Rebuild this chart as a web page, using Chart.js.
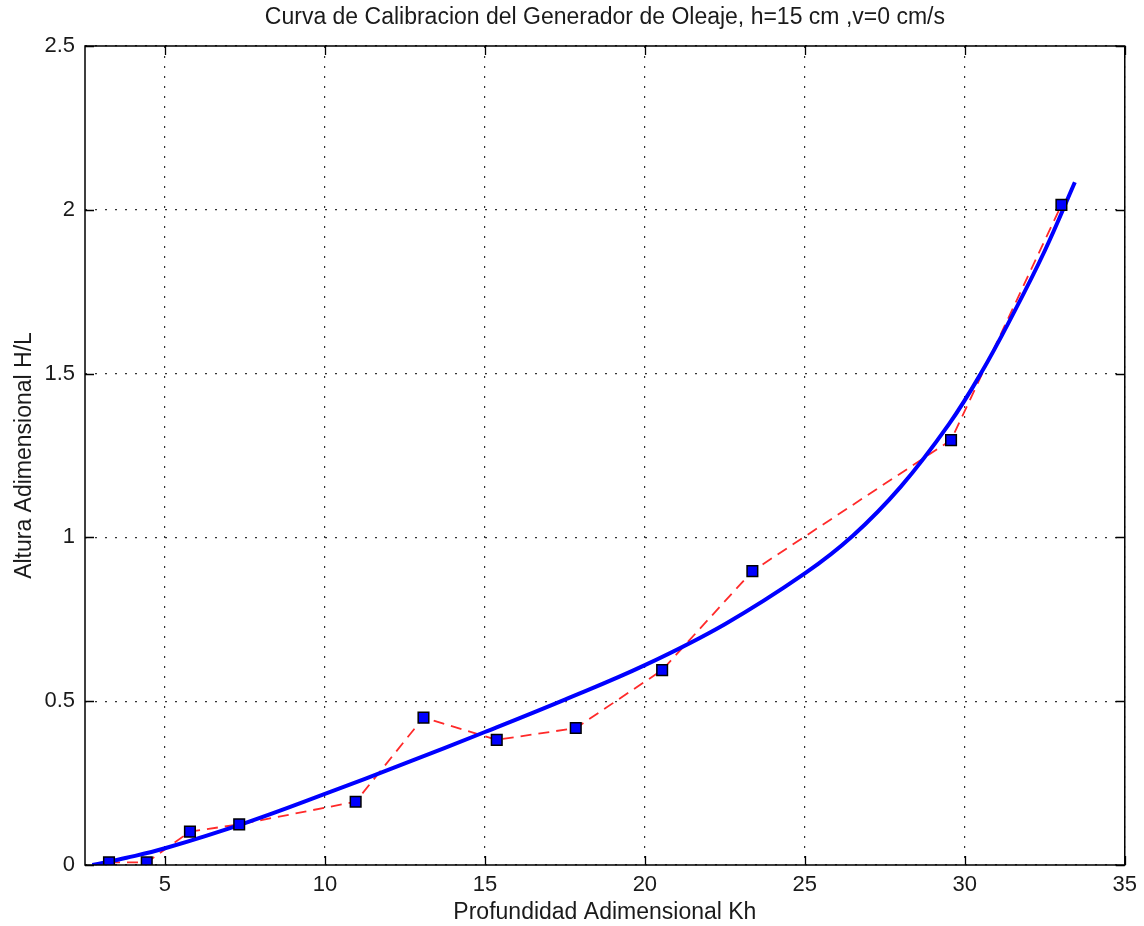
<!DOCTYPE html>
<html>
<head>
<meta charset="utf-8">
<title>Curva de Calibracion</title>
<script src="https://cdn.jsdelivr.net/npm/chart.js@4/dist/chart.umd.min.js"></script>
<style>
    html, body { margin: 0; padding: 0; background: #fff; }
    #wrap { width: 1144px; height: 926px; }
</style>
</head>
<body>
<div id="wrap"><canvas id="calib-chart" width="1144" height="926"></canvas></div>
<script>
// measured points (Kh, H/L)
var kh = [3.25, 4.43, 5.78, 7.32, 10.96, 13.08, 15.37, 17.84, 20.54, 23.36, 29.57, 33.02];
var hl = [0.008, 0.008, 0.102, 0.124, 0.193, 0.450, 0.382, 0.418, 0.595, 0.897, 1.297, 2.015];

// fitted calibration curve
var fitKh = [2.73, 3.8, 5, 7.5, 10, 12.5, 15, 17.5, 20, 22.5, 25, 26.5, 28, 29.5, 30.5, 31.5, 32.5, 33.44];
var fitHL = [0.0, 0.022, 0.051, 0.128, 0.217, 0.310, 0.406, 0.505, 0.610, 0.735, 0.890, 1.005, 1.155, 1.345, 1.50, 1.68, 1.875, 2.084];

var xTicks = [5, 10, 15, 20, 25, 30, 35];
var yTicks = [0, 0.5, 1, 1.5, 2, 2.5];

function toXY(xs, ys) {
    return xs.map(function(x, i) { return { x: x, y: ys[i] }; });
}

var fontFamily = "'Liberation Sans', Arial, Helvetica, sans-serif";
var textColor = '#1a1a1a';

// box around the plot with short inward ticks on all four sides
var boxPlugin = {
    id: 'matlabBox',
    afterDraw: function(chart) {
        var ctx = chart.ctx;
        var a = chart.chartArea;
        var tl = 9;
        ctx.save();
        ctx.strokeStyle = '#000';
        ctx.lineWidth = 1.3;
        ctx.setLineDash([]);
        ctx.beginPath();
        chart.scales.x.ticks.forEach(function(t) {
            var px = Math.round(chart.scales.x.getPixelForValue(t.value)) + 0.5;
            ctx.moveTo(px, a.bottom); ctx.lineTo(px, a.bottom - tl);
            ctx.moveTo(px, a.top); ctx.lineTo(px, a.top + tl);
        });
        chart.scales.y.ticks.forEach(function(t) {
            var py = Math.round(chart.scales.y.getPixelForValue(t.value)) + 0.5;
            ctx.moveTo(a.left, py); ctx.lineTo(a.left + tl, py);
            ctx.moveTo(a.right, py); ctx.lineTo(a.right - tl, py);
        });
        ctx.stroke();
        ctx.lineWidth = 1.5;
        ctx.strokeRect(a.left, a.top, a.right - a.left, a.bottom - a.top);
        ctx.restore();
    }
};

var ctx = document.getElementById('calib-chart').getContext('2d');

var calibChart = new Chart(ctx, {
    type: 'scatter',
    data: {
        datasets: [
            {
                // square markers (drawn last, on top)
                data: toXY(kh, hl),
                showLine: false,
                pointStyle: 'rect',
                pointRadius: 7.5,
                pointBackgroundColor: '#0000ff',
                pointBorderColor: '#000',
                pointBorderWidth: 1.5
            },
            {
                // fitted curve
                data: toXY(fitKh, fitHL),
                showLine: true,
                borderColor: '#0000ff',
                borderWidth: 4,
                pointRadius: 0,
                tension: 0.4,
                fill: false
            },
            {
                // measured points joined with dashes
                data: toXY(kh, hl),
                showLine: true,
                borderColor: '#ff2a2a',
                borderWidth: 1.8,
                borderDash: [11, 7],
                pointRadius: 0,
                tension: 0,
                fill: false
            }
        ]
    },
    options: {
        responsive: false,
        animation: false,
        events: [],
        layout: { padding: { left: 0, right: 19, top: 0, bottom: 0 } },
        plugins: {
            legend: { display: false },
            tooltip: { enabled: false },
            title: {
                display: true,
                fullSize: false,
                text: 'Curva de Calibracion del Generador de Oleaje, h=15 cm ,v=0 cm/s',
                color: textColor,
                font: { family: fontFamily, size: 23, weight: 'normal' },
                padding: { top: 4, bottom: 14.4 }
            }
        },
        scales: {
            x: {
                type: 'linear',
                min: 2.5,
                max: 35,
                afterBuildTicks: function(scale) {
                    scale.ticks = xTicks.map(function(v) { return { value: v }; });
                },
                afterFit: function(scale) { scale.height = 61; },
                grid: { color: '#333', lineWidth: 1.2, drawTicks: false },
                border: { display: false, dash: [2, 8] },
                ticks: {
                    color: textColor,
                    padding: 7,
                    maxRotation: 0,
                    font: { family: fontFamily, size: 22 },
                    callback: function(v) { return String(v); }
                },
                title: {
                    display: true,
                    text: 'Profundidad Adimensional Kh',
                    color: textColor,
                    font: { family: fontFamily, size: 23 },
                    padding: { top: 0, bottom: 0 }
                }
            },
            y: {
                type: 'linear',
                min: 0,
                max: 2.5,
                afterBuildTicks: function(scale) {
                    scale.ticks = yTicks.map(function(v) { return { value: v }; });
                },
                afterFit: function(scale) { scale.width = 85; },
                grid: { color: '#333', lineWidth: 1.2, drawTicks: false },
                border: { display: false, dash: [2, 8] },
                ticks: {
                    color: textColor,
                    padding: 10,
                    font: { family: fontFamily, size: 22 },
                    callback: function(v) { return String(v); }
                },
                title: {
                    display: true,
                    text: 'Altura Adimensional H/L',
                    color: textColor,
                    font: { family: fontFamily, size: 23 },
                    padding: { top: 11, bottom: 0 }
                }
            }
        }
    },
    plugins: [boxPlugin]
});
</script>
</body>
</html>
